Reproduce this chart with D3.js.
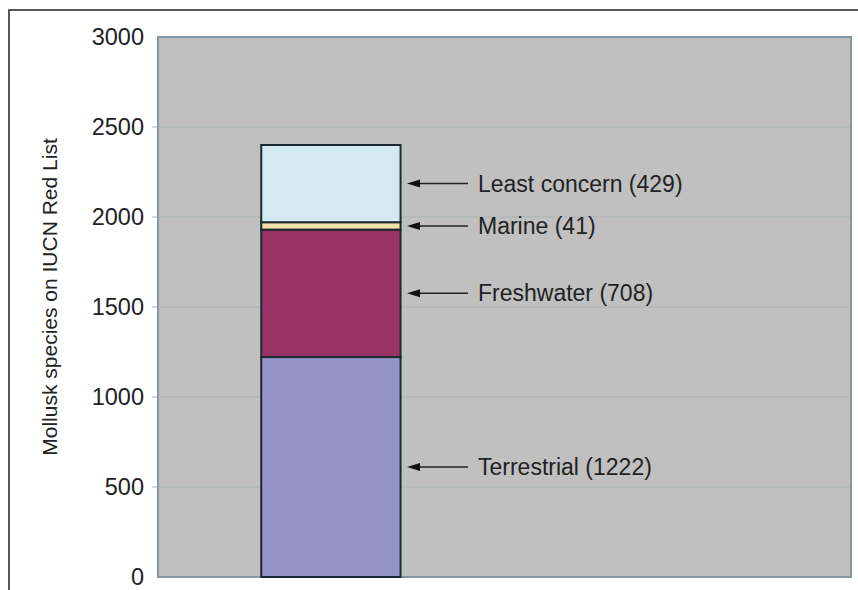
<!DOCTYPE html>
<html>
<head>
<meta charset="utf-8">
<script src="https://cdn.jsdelivr.net/npm/d3@7"></script>
<style>
  body { margin: 0; background: #fff; }
  text { font-family: "Liberation Sans", Arial, sans-serif; fill: #222; }
</style>
</head>
<body>
<div id="chart"></div>
<script>
// data
const categories = ["Terrestrial", "Freshwater", "Marine", "Least concern"];
const counts = [1222, 708, 41, 429];
const segColors = ["#9494c9", "#993366", "#f5dfa8", "#d3eaf2"];
const yTicks = [0, 500, 1000, 1500, 2000, 2500, 3000];

const width = 858, height = 590;
const margin = { top: 37, right: 7, bottom: 13, left: 158 };

const svg = d3.select("#chart").append("svg")
    .attr("width", width)
    .attr("height", height);

// outer frame (top + left only)
svg.append("path")
    .attr("d", "M9,590 V10 H858")
    .attr("fill", "none")
    .attr("stroke", "#222")
    .attr("stroke-width", 1.5);

const innerW = width - margin.left - margin.right;
const innerH = height - margin.top - margin.bottom;

const x = d3.scaleLinear().domain([0, 1]).range([0, innerW]);
const y = d3.scaleLinear().domain([0, 3000]).range([innerH, 0]);

const g = svg.append("g")
    .attr("transform", "translate(" + margin.left + "," + margin.top + ")");

// plot background
g.append("rect")
    .attr("x", 0).attr("y", 0)
    .attr("width", innerW).attr("height", innerH)
    .attr("fill", "#c0c0c0");

// grid lines
g.selectAll(".grid").data(yTicks.slice(1, -1)).enter().append("line")
    .attr("class", "grid")
    .attr("x1", -6).attr("x2", innerW)
    .attr("y1", d => y(d)).attr("y2", d => y(d))
    .attr("stroke", "#aab4b6")
    .attr("stroke-width", 1.2);

// frame of plot area
g.append("rect")
    .attr("x", 0).attr("y", 0)
    .attr("width", innerW).attr("height", innerH)
    .attr("fill", "none")
    .attr("stroke", "#8199a2")
    .attr("stroke-width", 2);

// y axis labels
const yAxis = g.append("g")
    .call(d3.axisLeft(y).tickValues(yTicks).tickFormat(d3.format("d")).tickSize(0).tickPadding(14));
yAxis.select(".domain").remove();
yAxis.selectAll("text")
    .style("font-family", "'Liberation Sans', Arial, sans-serif")
    .style("font-size", "23.5px")
    .attr("fill", "#222");

// stacked bar
let acc = 0;
const segs = counts.map((v, i) => {
  const s = { name: categories[i], value: v, y0: acc, y1: acc + v, color: segColors[i] };
  acc += v;
  return s;
});

const barX0 = x(0.149), barX1 = x(0.35);

g.selectAll(".seg").data(segs).enter().append("rect")
    .attr("class", "seg")
    .attr("x", barX0)
    .attr("width", barX1 - barX0)
    .attr("y", d => y(d.y1))
    .attr("height", d => y(d.y0) - y(d.y1))
    .attr("fill", d => d.color)
    .attr("stroke", "#1b2a30")
    .attr("stroke-width", 2);

// arrows + labels
const tipX = 407 - margin.left, tailX = 468 - margin.left;

const ann = g.selectAll(".ann").data(segs).enter().append("g")
    .attr("class", "ann")
    .attr("transform", d => "translate(0," + y((d.y0 + d.y1) / 2) + ")");

ann.append("line")
    .attr("x1", tailX).attr("x2", tipX + 8)
    .attr("y1", 0).attr("y2", 0)
    .attr("stroke", "#222")
    .attr("stroke-width", 1.5);

ann.append("path")
    .attr("d", "M" + tipX + ",0 L" + (tipX + 13) + ",-4 L" + (tipX + 13) + ",4 Z")
    .attr("fill", "#111");

ann.append("text")
    .attr("x", 478 - margin.left)
    .attr("dy", "0.35em")
    .style("font-size", "23px")
    .text(d => d.name + " (" + d.value + ")");

// y axis title
svg.append("text")
    .attr("transform", "translate(57,297) rotate(-90)")
    .attr("text-anchor", "middle")
    .style("font-size", "21px")
    .text("Mollusk species on IUCN Red List");
</script>
</body>
</html>
